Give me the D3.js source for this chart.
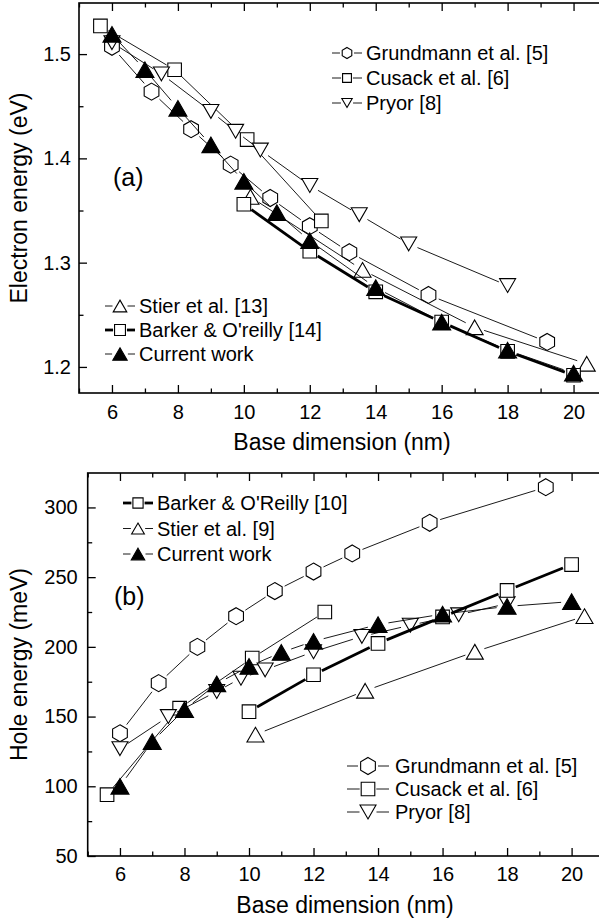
<!DOCTYPE html>
<html>
<head>
<meta charset="utf-8">
<script src="https://cdn.jsdelivr.net/npm/d3@7"></script>
<style>
body { margin: 0; background: #fff; }
svg text { font-family: "Liberation Sans", Arial, sans-serif; fill: #000; }
</style>
</head>
<body>
<svg id="chart" width="599" height="921"></svg>
<script>
// ---- panel (a): electron energy (eV) ----
const grundmannA_x = [6, 7.2, 8.4, 9.6, 10.8, 12.0, 13.2, 15.6, 19.2];
const grundmannA_y = [1.507, 1.464, 1.428, 1.394, 1.362, 1.335, 1.310, 1.269, 1.224];
const cusackA_x = [5.65, 7.9, 10.1, 12.35];
const cusackA_y = [1.527, 1.485, 1.418, 1.340];
const pryorA_x = [6, 7.5, 9, 9.75, 10.5, 12, 13.5, 15, 18];
const pryorA_y = [1.511, 1.481, 1.445, 1.426, 1.408, 1.374, 1.346, 1.318, 1.278];
const stierA_x = [10.2, 13.6, 17, 20.4];
const stierA_y = [1.363, 1.293, 1.238, 1.203];
const barkerA_x = [10, 12, 14, 16, 18, 20];
const barkerA_y = [1.356, 1.311, 1.272, 1.243, 1.215, 1.192];
const currentA_x = [6, 7, 8, 9, 10, 11, 12, 14, 16, 18, 20];
const currentA_y = [1.519, 1.485, 1.448, 1.413, 1.378, 1.348, 1.321, 1.276, 1.243, 1.216, 1.194];

// ---- panel (b): hole energy (meV) ----
const grundmannB_x = [6, 7.2, 8.4, 9.6, 10.8, 12.0, 13.2, 15.6, 19.2];
const grundmannB_y = [138, 174, 200, 222, 240, 254, 267, 289, 314.5];
const cusackB_x = [5.6, 7.85, 10.1, 12.35];
const cusackB_y = [94, 156, 192, 225];
const pryorB_x = [6, 7.5, 9, 9.75, 10.5, 12, 13.5, 15, 16.5, 18];
const pryorB_y = [127, 150, 168, 177.5, 183.5, 196.5, 207.5, 215.5, 223, 231];
const stierB_x = [10.2, 13.6, 17, 20.4];
const stierB_y = [137, 168.5, 196.5, 222];
const barkerB_x = [10, 12, 14, 16, 18, 20];
const barkerB_y = [153.5, 180, 202.5, 221.5, 240.5, 259];
const currentB_x = [6, 7, 8, 9, 10, 11, 12, 14, 16, 18, 20];
const currentB_y = [100, 132, 155, 173.5, 186, 196, 204, 216, 223.5, 229, 232.5];

// ---- ticks ----
const xMajorTicks = [6, 8, 10, 12, 14, 16, 18, 20];
const xMinorTicks = [5, 7, 9, 11, 13, 15, 17, 19];
const yMajorTicksA = [1.2, 1.3, 1.4, 1.5];
const yMinorTicksA = [1.25, 1.35, 1.45];
const yMajorTicksB = [50, 100, 150, 200, 250, 300];
const yMinorTicksB = [75, 125, 175, 225, 275];

const svg = d3.select('#chart');

// marker outline, centred on its bounding box
function markerPath(shape, k) {
    let r;
    if (shape === 'hex') {
        r = 8.5 * k;
        let pts = d3.range(6).map(function(i) {
            let a = (-90 + 60 * i) * Math.PI / 180;
            return [r * Math.cos(a), r * Math.sin(a)];
        });
        return 'M' + pts.join('L') + 'Z';
    }
    if (shape === 'square') {
        r = 6.8 * k;
        return 'M' + [[-r, -r], [r, -r], [r, r], [-r, r]].join('L') + 'Z';
    }
    let s = (shape === 'filled' ? 18 : (shape === 'down' ? 16 : 17)) * k;
    let h = s * 0.866;
    let dir = shape === 'down' ? -1 : 1;
    return 'M' + [[0, -dir * h / 2], [s / 2, dir * h / 2], [-s / 2, dir * h / 2]].join('L') + 'Z';
}

function markerGap(shape, k) {
    let base = {hex: 8.5, square: 6.8, up: 7.5, down: 7, filled: 8}[shape];
    return base * k + 2.5;
}

// lines in segments that stop short of the symbols
function drawSeries(g, x, y, s) {
    let pts = s.xs.map(function(v, i) { return [x(v), y(s.ys[i])]; });
    let gap = markerGap(s.shape, 1);
    let segs = [];
    for (let i = 0; i < pts.length - 1; i++) {
        let dx = pts[i + 1][0] - pts[i][0], dy = pts[i + 1][1] - pts[i][1];
        let len = Math.sqrt(dx * dx + dy * dy);
        if (len <= 2 * gap) continue;
        let ux = dx / len, uy = dy / len;
        segs.push([pts[i][0] + ux * gap, pts[i][1] + uy * gap,
                   pts[i + 1][0] - ux * gap, pts[i + 1][1] - uy * gap]);
    }
    g.append('g').selectAll('line')
        .data(segs)
        .enter()
        .append('line')
        .attr('x1', function(d) { return d[0]; })
        .attr('y1', function(d) { return d[1]; })
        .attr('x2', function(d) { return d[2]; })
        .attr('y2', function(d) { return d[3]; })
        .attr('stroke', '#000')
        .attr('stroke-width', s.thick ? 2.8 : 0.9);

    g.append('g').selectAll('path')
        .data(pts)
        .enter()
        .append('path')
        .attr('transform', function(d) { return 'translate(' + d[0] + ',' + d[1] + ')'; })
        .attr('d', markerPath(s.shape, 1))
        .attr('fill', s.shape === 'filled' ? '#000' : '#fff')
        .attr('stroke', '#000')
        .attr('stroke-width', 1.1);
}

function drawLegend(g, items, opts) {
    items.forEach(function(it, i) {
        let cy = opts.y + i * opts.dy;
        let gap = markerGap(it.shape, opts.k) - 1;
        let lw = it.thick ? 2.8 : 0.9;
        g.append('line')
            .attr('x1', opts.x1).attr('x2', opts.cx - gap)
            .attr('y1', cy).attr('y2', cy)
            .attr('stroke', '#000').attr('stroke-width', lw);
        g.append('line')
            .attr('x1', opts.cx + gap).attr('x2', opts.x2)
            .attr('y1', cy).attr('y2', cy)
            .attr('stroke', '#000').attr('stroke-width', lw);
        g.append('path')
            .attr('transform', 'translate(' + opts.cx + ',' + cy + ')')
            .attr('d', markerPath(it.shape, opts.k))
            .attr('fill', it.shape === 'filled' ? '#000' : '#fff')
            .attr('stroke', '#000')
            .attr('stroke-width', 1.1);
        g.append('text')
            .attr('x', opts.tx)
            .attr('y', cy + 7)
            .attr('font-size', 20)
            .text(it.label);
    });
}

function drawPanel(p) {
    let g = svg.append('g');
    let x = d3.scaleLinear().domain([5, 21]).range([p.left, p.left + 16 * p.xStep]);
    let y = d3.scaleLinear().domain(p.yDomain).range([p.bottom, p.top]);
    let right = x(21);

    // bottom axis
    g.append('g')
        .attr('transform', 'translate(0,' + p.bottom + ')')
        .call(d3.axisBottom(x).tickValues(xMajorTicks).tickSize(-8).tickPadding(p.xPad))
        .call(function(a) { a.select('.domain').remove(); })
        .call(function(a) { a.selectAll('text').attr('font-size', 20).attr('fill', '#000'); });
    g.append('g')
        .attr('transform', 'translate(0,' + p.bottom + ')')
        .call(d3.axisBottom(x).tickValues(xMinorTicks).tickSize(-4.5).tickFormat(''))
        .call(function(a) { a.select('.domain').remove(); });
    // top axis (ticks only)
    g.append('g')
        .attr('transform', 'translate(0,' + p.top + ')')
        .call(d3.axisTop(x).tickValues(xMajorTicks).tickSize(-8).tickFormat(''))
        .call(function(a) { a.select('.domain').remove(); });
    g.append('g')
        .attr('transform', 'translate(0,' + p.top + ')')
        .call(d3.axisTop(x).tickValues(xMinorTicks).tickSize(-4.5).tickFormat(''))
        .call(function(a) { a.select('.domain').remove(); });
    // left axis
    g.append('g')
        .attr('transform', 'translate(' + p.left + ',0)')
        .call(d3.axisLeft(y).tickValues(p.yMajor).tickSize(-8).tickPadding(p.yPad).tickFormat(p.yFormat))
        .call(function(a) { a.select('.domain').remove(); })
        .call(function(a) { a.selectAll('text').attr('font-size', 20).attr('fill', '#000'); });
    g.append('g')
        .attr('transform', 'translate(' + p.left + ',0)')
        .call(d3.axisLeft(y).tickValues(p.yMinor).tickSize(-4.5).tickFormat(''))
        .call(function(a) { a.select('.domain').remove(); });
    g.selectAll('.tick line').attr('stroke', '#000').attr('stroke-width', 1.3);

    g.append('rect')
        .attr('x', p.left).attr('y', p.top)
        .attr('width', right - p.left).attr('height', p.bottom - p.top)
        .attr('fill', 'none').attr('stroke', '#000').attr('stroke-width', 1.6);

    p.series.forEach(function(s) { drawSeries(g, x, y, s); });

    g.append('text')
        .attr('x', p.xTitleX).attr('y', p.xTitleY)
        .attr('text-anchor', 'middle').attr('font-size', 23)
        .text('Base dimension (nm)');
    g.append('text')
        .attr('transform', 'translate(27,' + (p.top + p.bottom) / 2 + ') rotate(-90)')
        .attr('text-anchor', 'middle').attr('font-size', 23)
        .text(p.yTitle);
    g.append('text')
        .attr('x', p.tagX).attr('y', p.tagY)
        .attr('font-size', 25)
        .text(p.tag);

    p.legends.forEach(function(l) { drawLegend(g, l.items, l); });
}

const grundmannA = {xs: grundmannA_x, ys: grundmannA_y, shape: 'hex'};
const cusackA = {xs: cusackA_x, ys: cusackA_y, shape: 'square'};
const pryorA = {xs: pryorA_x, ys: pryorA_y, shape: 'down'};
const stierA = {xs: stierA_x, ys: stierA_y, shape: 'up'};
const barkerA = {xs: barkerA_x, ys: barkerA_y, shape: 'square', thick: true};
const currentA = {xs: currentA_x, ys: currentA_y, shape: 'filled'};

const grundmannB = {xs: grundmannB_x, ys: grundmannB_y, shape: 'hex'};
const cusackB = {xs: cusackB_x, ys: cusackB_y, shape: 'square'};
const pryorB = {xs: pryorB_x, ys: pryorB_y, shape: 'down'};
const stierB = {xs: stierB_x, ys: stierB_y, shape: 'up'};
const barkerB = {xs: barkerB_x, ys: barkerB_y, shape: 'square', thick: true};
const currentB = {xs: currentB_x, ys: currentB_y, shape: 'filled'};

drawPanel({
    left: 79, top: 3, bottom: 393, xStep: 32.97,
    yDomain: [1.175, 1.549], yMajor: yMajorTicksA, yMinor: yMinorTicksA,
    yFormat: d3.format('.1f'), xPad: 12, yPad: 8,
    series: [grundmannA, cusackA, pryorA, stierA, barkerA, currentA],
    xTitleX: 342, xTitleY: 450, yTitle: 'Electron energy (eV)',
    tag: '(a)', tagX: 113, tagY: 186,
    legends: [
        {x1: 332, x2: 362, cx: 347, tx: 366, y: 53, dy: 25, k: 0.65, items: [
            {label: 'Grundmann et al. [5]', shape: 'hex'},
            {label: 'Cusack et al. [6]', shape: 'square'},
            {label: 'Pryor [8]', shape: 'down'}]},
        {x1: 105, x2: 135, cx: 120, tx: 139, y: 306, dy: 24, k: 0.8, items: [
            {label: 'Stier et al. [13]', shape: 'up'},
            {label: "Barker & O'reilly [14]", shape: 'square', thick: true},
            {label: 'Current work', shape: 'filled'}]}
    ]
});

drawPanel({
    left: 87.7, top: 473, bottom: 856, xStep: 32.26,
    yDomain: [50, 324.7], yMajor: yMajorTicksB, yMinor: yMinorTicksB,
    yFormat: d3.format('d'), xPad: 11, yPad: 10,
    series: [grundmannB, cusackB, pryorB, stierB, barkerB, currentB],
    xTitleX: 345, xTitleY: 913, yTitle: 'Hole energy (meV)',
    tag: '(b)', tagX: 114, tagY: 605,
    legends: [
        {x1: 123, x2: 153, cx: 138, tx: 157, y: 503, dy: 25.5, k: 0.75, items: [
            {label: "Barker & O'Reilly [10]", shape: 'square', thick: true},
            {label: 'Stier et al. [9]', shape: 'up'},
            {label: 'Current work', shape: 'filled'}]},
        {x1: 347, x2: 389, cx: 368, tx: 395, y: 766, dy: 23, k: 1.0, items: [
            {label: 'Grundmann et al. [5]', shape: 'hex'},
            {label: 'Cusack et al. [6]', shape: 'square'},
            {label: 'Pryor [8]', shape: 'down'}]}
    ]
});
</script>
</body>
</html>
